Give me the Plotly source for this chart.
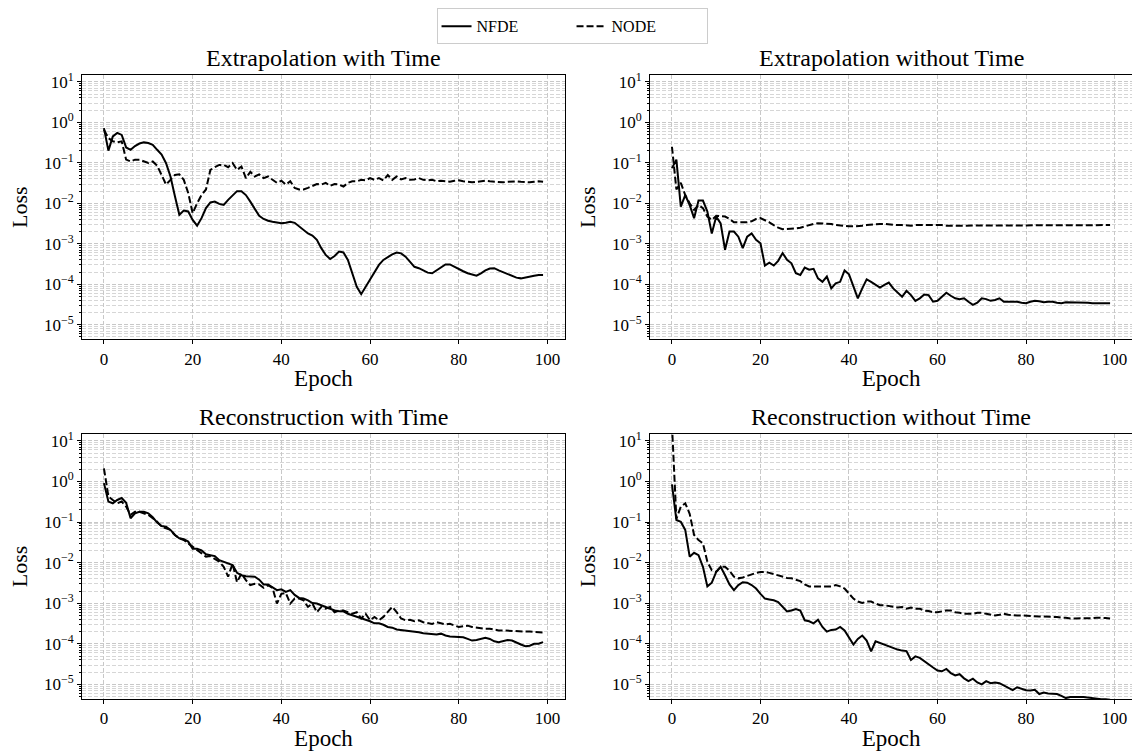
import plotly.graph_objects as go

epochs = list(range(100))

titles = ["Extrapolation with Time", "Extrapolation without Time",
          "Reconstruction with Time", "Reconstruction without Time"]

ext_time_nfde = [
    0.72, 0.20, 0.45, 0.55, 0.49, 0.24, 0.21, 0.26, 0.30, 0.32,
    0.31, 0.28, 0.21, 0.16, 0.098, 0.046, 0.015, 0.0052, 0.0066, 0.0063,
    0.0039, 0.0028, 0.0043, 0.0076, 0.0105, 0.011, 0.0097, 0.0091, 0.0122, 0.016,
    0.020, 0.020, 0.016, 0.011, 0.0071, 0.0049, 0.0041, 0.0037, 0.0035, 0.0033,
    0.0032, 0.0033, 0.0035, 0.0033, 0.0027, 0.0021, 0.0018, 0.0016, 0.00125, 0.00078,
    0.00053, 0.00042, 0.00050, 0.00064, 0.00061, 0.00040, 0.00019, 8.7e-5, 5.7e-5, 8.7e-5,
    1.32e-4, 2.05e-4, 3.0e-4, 4.0e-4, 4.8e-4, 5.5e-4, 6.1e-4, 5.8e-4, 4.8e-4, 3.6e-4,
    2.7e-4, 2.5e-4, 2.2e-4, 1.94e-4, 1.87e-4, 2.2e-4, 2.7e-4, 3.1e-4, 3.1e-4, 2.7e-4,
    2.34e-4, 2.1e-4, 1.87e-4, 1.74e-4, 1.63e-4, 1.87e-4, 2.2e-4, 2.44e-4, 2.5e-4, 2.2e-4,
    2.0e-4, 1.79e-4, 1.6e-4, 1.46e-4, 1.4e-4, 1.49e-4, 1.55e-4, 1.63e-4, 1.7e-4, 1.7e-4,
]
ext_time_node = [
    0.66, 0.41, 0.34, 0.32, 0.34, 0.12, 0.108, 0.12, 0.12, 0.11,
    0.099, 0.108, 0.085, 0.050, 0.029, 0.038, 0.050, 0.052, 0.038, 0.018,
    0.0057, 0.010, 0.016, 0.022, 0.067, 0.078, 0.089, 0.089, 0.078, 0.099,
    0.067, 0.081, 0.042, 0.060, 0.046, 0.052, 0.042, 0.046, 0.038, 0.032,
    0.036, 0.029, 0.035, 0.024, 0.022, 0.022, 0.024, 0.027, 0.030, 0.029,
    0.032, 0.027, 0.030, 0.029, 0.026, 0.032, 0.035, 0.035, 0.038, 0.037,
    0.042, 0.038, 0.042, 0.037, 0.050, 0.038, 0.046, 0.039, 0.042, 0.038,
    0.039, 0.042, 0.038, 0.037, 0.038, 0.035, 0.036, 0.035, 0.034, 0.036,
    0.037, 0.035, 0.034, 0.033, 0.034, 0.035, 0.036, 0.035, 0.034, 0.033,
    0.033, 0.034, 0.035, 0.035, 0.034, 0.033, 0.033, 0.034, 0.035, 0.034,
]

ext_notime_nfde = [
    0.074, 0.12, 0.0083, 0.016, 0.0091, 0.0043, 0.0117, 0.0117, 0.0063, 0.0018,
    0.0047, 0.0032, 0.00071, 0.0020, 0.0020, 0.0015, 0.00078, 0.0015, 0.0018, 0.00125,
    0.00103, 0.00029, 0.00034, 0.00029, 0.00038, 0.00059, 0.00040, 0.00033, 1.87e-4, 1.7e-4,
    2.6e-4, 2.3e-4, 2.4e-4, 1.4e-4, 1.15e-4, 1.55e-4, 7.9e-5, 1.05e-4, 1.15e-4, 2.2e-4,
    1.76e-4, 8.7e-5, 4.5e-5, 7.9e-5, 1.32e-4, 1.15e-4, 9.6e-5, 8.3e-5, 9.6e-5, 1.1e-4,
    7.9e-5, 6.2e-5, 4.9e-5, 6.9e-5, 5.4e-5, 3.9e-5, 4.5e-5, 5.6e-5, 5.4e-5, 3.7e-5,
    3.9e-5, 4.9e-5, 6.2e-5, 5.2e-5, 4.5e-5, 4.3e-5, 4.5e-5, 3.7e-5, 3.1e-5, 3.5e-5,
    4.5e-5, 4.3e-5, 3.9e-5, 4.1e-5, 4.5e-5, 3.7e-5, 3.7e-5, 3.8e-5, 3.7e-5, 3.5e-5,
    3.4e-5, 3.7e-5, 3.9e-5, 3.8e-5, 3.6e-5, 3.7e-5, 3.7e-5, 3.5e-5, 3.4e-5, 3.6e-5,
    3.6e-5, 3.5e-5, 3.6e-5, 3.5e-5, 3.5e-5, 3.4e-5, 3.4e-5, 3.4e-5, 3.4e-5, 3.4e-5,
]
ext_notime_node = [
    0.25, 0.022, 0.032, 0.016, 0.010, 0.0069, 0.0091, 0.0076, 0.0047, 0.0039,
    0.0049, 0.0049, 0.0047, 0.0041, 0.0034, 0.0034, 0.0034, 0.0034, 0.0036, 0.0041,
    0.0043, 0.0039, 0.0034, 0.0029, 0.0025, 0.0023, 0.0023, 0.0024, 0.0024, 0.0025,
    0.0027, 0.0029, 0.0031, 0.0032, 0.0032, 0.0032, 0.0031, 0.0029, 0.0028, 0.0028,
    0.0027, 0.0027, 0.0027, 0.0028, 0.0029, 0.0030, 0.0031, 0.0031, 0.0031, 0.0030,
    0.0029, 0.0029, 0.0029, 0.0028, 0.0028, 0.0029, 0.0029, 0.0030, 0.0030, 0.0029,
    0.0029, 0.0029, 0.0028, 0.0028, 0.0029, 0.0029, 0.0029, 0.0028, 0.0028, 0.0028,
    0.0029, 0.0029, 0.0029, 0.0029, 0.0028, 0.0028, 0.0028, 0.0029, 0.0029, 0.0029,
    0.0029, 0.0029, 0.0029, 0.0029, 0.0029, 0.0029, 0.0029, 0.0029, 0.0029, 0.0029,
    0.0029, 0.0029, 0.0029, 0.0029, 0.0029, 0.0029, 0.0029, 0.0029, 0.0029, 0.0029,
]

rec_time_nfde = [
    0.91, 0.32, 0.29, 0.35, 0.39, 0.30, 0.124, 0.164, 0.18, 0.18,
    0.164, 0.131, 0.097, 0.080, 0.077, 0.064, 0.048, 0.040, 0.038, 0.033,
    0.022, 0.022, 0.020, 0.016, 0.0153, 0.0145, 0.0115, 0.0105, 0.0095, 0.0087,
    0.0056, 0.0049, 0.0046, 0.0045, 0.0045, 0.0038, 0.0029, 0.0029, 0.0025, 0.0021,
    0.0022, 0.0019, 0.0021, 0.0016, 0.00135, 0.0013, 0.00118, 0.00101, 0.00098, 0.00089,
    0.00078, 0.00073, 0.00066, 0.00063, 0.00063, 0.00055, 0.00050, 0.00046, 0.00041, 0.00039,
    0.00036, 0.00032, 0.00032, 0.000295, 0.00026, 0.00025, 0.000225, 0.00022, 0.000214, 0.00021,
    0.00020, 0.000193, 0.000182, 0.000178, 0.00017, 0.00017, 0.000178, 0.00016, 0.000151, 0.000151,
    0.000145, 0.000145, 0.000132, 0.00012, 0.000124, 0.000132, 0.00014, 0.000132, 0.000115, 0.00011,
    0.000115, 0.000124, 0.00012, 0.000105, 0.000096, 0.000087, 0.00009, 0.0001, 0.0001, 0.00011,
]
rec_time_node = [
    2.1, 0.43, 0.35, 0.29, 0.32, 0.24, 0.15, 0.18, 0.18, 0.164,
    0.15, 0.124, 0.102, 0.077, 0.070, 0.064, 0.048, 0.040, 0.036, 0.030,
    0.025, 0.020, 0.017, 0.014, 0.0145, 0.0126, 0.0105, 0.0079, 0.0045, 0.0095,
    0.0033, 0.0054, 0.0037, 0.0028, 0.0030, 0.0029, 0.0024, 0.0028, 0.0024, 0.00098,
    0.0017, 0.0018, 0.00098, 0.0013, 0.0013, 0.00118, 0.00081, 0.00098, 0.0006, 0.00081,
    0.00073, 0.00081, 0.0006, 0.00066, 0.00066, 0.0006, 0.00055, 0.0006, 0.00042, 0.00055,
    0.00038, 0.00046, 0.00038, 0.00046, 0.0006, 0.00081, 0.0006, 0.00042, 0.00038, 0.00039,
    0.00036, 0.00038, 0.00034, 0.00032, 0.00031, 0.00034, 0.00032, 0.0003, 0.00031, 0.00028,
    0.00026, 0.00027, 0.00028, 0.00026, 0.00025, 0.000234, 0.000234, 0.000234, 0.00022, 0.000214,
    0.000214, 0.00021, 0.000214, 0.000205, 0.000205, 0.0002, 0.0002, 0.000195, 0.00019, 0.00019,
]

rec_notime_nfde = [
    0.85, 0.112, 0.102, 0.064, 0.014, 0.0175, 0.0153, 0.0079, 0.0026, 0.0032,
    0.0059, 0.0079, 0.0049, 0.0029, 0.0021, 0.0028, 0.0033, 0.0032, 0.0028, 0.0023,
    0.0017, 0.0013, 0.00124, 0.00118, 0.00107, 0.00083, 0.00063, 0.00066, 0.00072, 0.00066,
    0.00038, 0.00036, 0.00032, 0.00039, 0.00026, 0.0002, 0.00022, 0.000225, 0.00026, 0.000214,
    0.000145, 0.000096, 0.000132, 0.00016, 0.00012, 0.000065, 0.000115, 0.000104, 0.000094, 0.000086,
    0.000079, 0.000072, 0.000068, 0.000066, 0.00004, 0.000049, 0.000045, 0.000037, 0.000032, 0.000026,
    2.2e-5, 2.1e-5, 2.4e-5, 1.9e-5, 1.66e-5, 1.78e-5, 1.41e-5, 1.2e-5, 1.38e-5, 1.12e-5,
    1.0e-5, 1.2e-5, 1.07e-5, 1.12e-5, 1.07e-5, 9.5e-6, 8.3e-6, 7.2e-6, 8.5e-6, 7.9e-6,
    7.2e-6, 7.1e-6, 7.4e-6, 5.8e-6, 6.3e-6, 6.0e-6, 6.0e-6, 5.8e-6, 5.2e-6, 4.6e-6,
    4.9e-6, 5.0e-6, 4.9e-6, 4.9e-6, 4.7e-6, 4.5e-6, 4.4e-6, 4.3e-6, 4.3e-6, 4.2e-6,
]
rec_notime_node = [
    25.0, 0.12, 0.24, 0.29, 0.16, 0.048, 0.036, 0.030, 0.0105, 0.0065,
    0.0059, 0.0079, 0.0079, 0.0063, 0.0045, 0.0041, 0.0043, 0.0047, 0.0052, 0.0056,
    0.0059, 0.0059, 0.0056, 0.0052, 0.0047, 0.0045, 0.0042, 0.0041, 0.0038, 0.0035,
    0.0029, 0.0026, 0.0026, 0.0026, 0.0025, 0.0025, 0.0026, 0.0028, 0.0026, 0.0023,
    0.0017, 0.0013, 0.0011, 0.00101, 0.0011, 0.0011, 0.00098, 0.00089, 0.00089, 0.00084,
    0.00081, 0.00078, 0.00081, 0.00073, 0.00078, 0.00073, 0.00073, 0.00066, 0.00064, 0.0006,
    0.0006, 0.00064, 0.00066, 0.00066, 0.0006, 0.00058, 0.00055, 0.00055, 0.00055, 0.00058,
    0.00058, 0.00055, 0.00053, 0.0005, 0.00052, 0.00055, 0.00052, 0.0005, 0.0005, 0.0005,
    0.00049, 0.00047, 0.00047, 0.00047, 0.00047, 0.00046, 0.00046, 0.00046, 0.00044, 0.00044,
    0.00042, 0.00042, 0.00042, 0.00042, 0.00043, 0.00043, 0.00044, 0.00044, 0.00043, 0.00042,
]

panels = [
    (ext_time_nfde, ext_time_node),
    (ext_notime_nfde, ext_notime_node),
    (rec_time_nfde, rec_time_node),
    (rec_notime_nfde, rec_notime_node),
]

x_ticks = [0, 20, 40, 60, 80, 100]
y_ticks = [1e-5, 1e-4, 1e-3, 1e-2, 1e-1, 1e0, 1e1]
y_ticktext = ["10<sup>\u22125</sup>", "10<sup>\u22124</sup>", "10<sup>\u22123</sup>",
              "10<sup>\u22122</sup>", "10<sup>\u22121</sup>", "10<sup>0</sup>", "10<sup>1</sup>"]

FONT = "Liberation Serif"
xdomains = [[0.0, 0.46], [0.541, 1.0]]
ydomains = [[0.5764, 1.0], [0.0, 0.4247]]
GRID = "#c8c8c8"
MINOR_GRID = "#d6d6d6"

fig = go.Figure()
layout = {}
for i, (nfde, node) in enumerate(panels):
    r, c = divmod(i, 2)
    k = "" if i == 0 else str(i + 1)
    fig.add_trace(go.Scatter(x=epochs, y=nfde, mode="lines", name="NFDE",
                             line=dict(color="black", width=2),
                             xaxis="x" + k, yaxis="y" + k, showlegend=(i == 0),
                             legendgroup="nfde"))
    fig.add_trace(go.Scatter(x=epochs, y=node, mode="lines", name="NODE",
                             line=dict(color="black", width=2, dash="7px,3px"),
                             xaxis="x" + k, yaxis="y" + k, showlegend=(i == 0),
                             legendgroup="node"))
    layout["xaxis" + k] = dict(
        domain=xdomains[c], anchor="y" + k, range=[-4.95, 103.95], automargin=False,
        tickvals=x_ticks, ticks="outside", ticklen=4, tickcolor="black",
        showline=True, mirror=True, linecolor="black", linewidth=1,
        showgrid=True, gridcolor=GRID, griddash="4px,2px", gridwidth=1,
        zeroline=False, tickfont=dict(family=FONT, size=17, color="black"),
        title=dict(text="Epoch", font=dict(family=FONT, size=23, color="black"), standoff=2),
    )
    layout["yaxis" + k] = dict(
        domain=ydomains[r], anchor="x" + k, type="log", range=[-5.36, 1.17], automargin=False,
        tickvals=y_ticks, ticktext=y_ticktext, ticks="outside", ticklen=4, tickcolor="black",
        showline=True, mirror=True, linecolor="black", linewidth=1,
        showgrid=True, gridcolor=GRID, griddash="4px,2px", gridwidth=1,
        minor=dict(dtick="D1", showgrid=True, gridcolor=MINOR_GRID, griddash="4px,2px",
                   ticks="outside", ticklen=2, tickcolor="black", gridwidth=1),
        zeroline=False, tickfont=dict(family=FONT, size=17, color="black"),
        title=dict(text="Loss", font=dict(family=FONT, size=22, color="black"), standoff=10),
    )

annotations = []
for i, t in enumerate(titles):
    r, c = divmod(i, 2)
    annotations.append(dict(text=t, x=sum(xdomains[c]) / 2, y=ydomains[r][1],
                            xref="paper", yref="paper", xanchor="center", yanchor="bottom",
                            yshift=2, showarrow=False,
                            font=dict(family=FONT, size=24, color="black")))

fig.update_layout(
    **layout,
    annotations=annotations,
    width=1132, height=753,
    margin=dict(l=82, r=0, t=75, b=54, autoexpand=False),
    paper_bgcolor="white", plot_bgcolor="white",
    font=dict(family=FONT, color="black"),
    legend=dict(orientation="h", x=0.4667, xanchor="center", y=1.107, yanchor="top",
                bordercolor="#cccccc", borderwidth=1, bgcolor="white",
                font=dict(family=FONT, size=16, color="black"),
                entrywidth=90, entrywidthmode="pixels", tracegroupgap=0),
)

fig.write_html(
    "out.html",
    config={"displayModeBar": False},
    post_script="document.body.style.margin='0';document.body.style.overflow='hidden';",
)
